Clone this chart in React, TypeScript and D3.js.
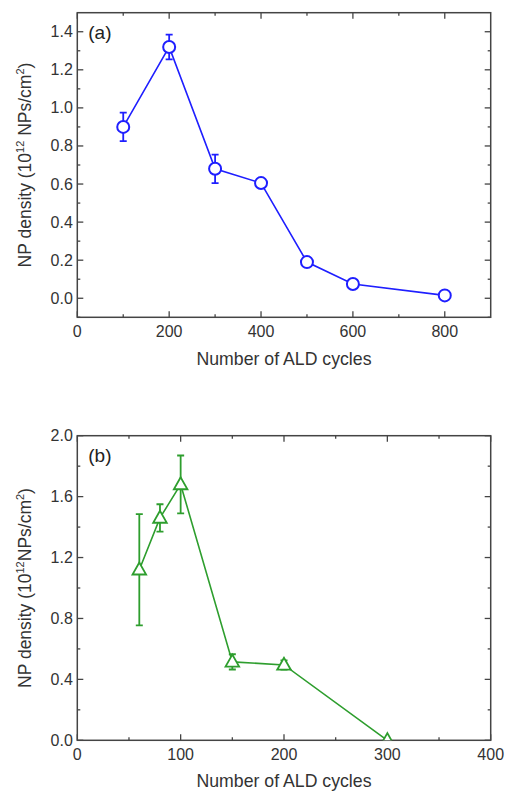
import React from "react";
import * as d3 from "d3";

// Panel (a)
const cyclesA = [100, 200, 300, 400, 500, 600, 800];
const densityA = [0.9, 1.32, 0.68, 0.605, 0.19, 0.075, 0.015];
const errA = [0.075, 0.065, 0.075, 0.0, 0.0, 0.0, 0.0];
const xTicksA = [0, 200, 400, 600, 800];
const xMinorA = [100, 300, 500, 700];
const yTicksA = [0.0, 0.2, 0.4, 0.6, 0.8, 1.0, 1.2, 1.4];
const yMinorA = [-0.1, 0.1, 0.3, 0.5, 0.7, 0.9, 1.1, 1.3];

// Panel (b)
const cyclesB = [60, 80, 100, 150, 200, 300];
const densityB = [1.12, 1.46, 1.68, 0.515, 0.495, 0.0];
const errB = [0.365, 0.09, 0.19, 0.05, 0.03, 0.0];
const xTicksB = [0, 100, 200, 300, 400];
const xMinorB = [50, 150, 250, 350];
const yTicksB = [0.0, 0.4, 0.8, 1.2, 1.6, 2.0];
const yMinorB = [0.2, 0.6, 1.0, 1.4, 1.8];

const FONT = "'Liberation Sans', Arial, sans-serif";
const AXIS = "#444";
const TXT = "#333";

type PanelProps = {
  id: string;
  left: number; right: number; top: number; bottom: number;
  xDomain: [number, number]; yDomain: [number, number];
  xs: number[]; ys: number[]; errs: number[];
  xTicks: number[]; xMinor: number[]; yTicks: number[]; yMinor: number[];
  yFmt: (v: number) => string;
  color: string; marker: "circle" | "triangle";
  tag: string; spaceBefore: boolean;
  xLabelY: number; yLabelX: number;
};

function Panel(p: PanelProps) {
  const x = d3.scaleLinear().domain(p.xDomain).range([p.left, p.right]);
  const y = d3.scaleLinear().domain(p.yDomain).range([p.bottom, p.top]);
  const line = d3.line<number>().x((_, i) => x(p.xs[i])).y((d) => y(d));
  const MAJ = 6, MIN = 3;
  const clipId = "clip-" + p.id;
  const cy = (p.top + p.bottom) / 2;
  const cx = (p.left + p.right) / 2;
  return (
    <g>
      <defs>
        <clipPath id={clipId}>
          <rect x={p.left} y={p.top} width={p.right - p.left} height={p.bottom - p.top} />
        </clipPath>
      </defs>
      {/* ticks */}
      <g stroke={AXIS} strokeWidth={1.3}>
        {p.xTicks.map((t) => (
          <g key={"xt" + t}>
            <line x1={x(t)} x2={x(t)} y1={p.bottom} y2={p.bottom - MAJ} />
            <line x1={x(t)} x2={x(t)} y1={p.top} y2={p.top + MAJ} />
          </g>
        ))}
        {p.xMinor.map((t) => (
          <g key={"xm" + t}>
            <line x1={x(t)} x2={x(t)} y1={p.bottom} y2={p.bottom - MIN} />
            <line x1={x(t)} x2={x(t)} y1={p.top} y2={p.top + MIN} />
          </g>
        ))}
        {p.yTicks.map((t) => (
          <g key={"yt" + t}>
            <line x1={p.left} x2={p.left + MAJ} y1={y(t)} y2={y(t)} />
            <line x1={p.right} x2={p.right - MAJ} y1={y(t)} y2={y(t)} />
          </g>
        ))}
        {p.yMinor.map((t) => (
          <g key={"ym" + t}>
            <line x1={p.left} x2={p.left + MIN} y1={y(t)} y2={y(t)} />
            <line x1={p.right} x2={p.right - MIN} y1={y(t)} y2={y(t)} />
          </g>
        ))}
      </g>
      <rect x={p.left} y={p.top} width={p.right - p.left} height={p.bottom - p.top}
        fill="none" stroke={AXIS} strokeWidth={1.5} />
      {/* tick labels */}
      <g fontFamily={FONT} fontSize={16} fill={TXT}>
        {p.xTicks.map((t) => (
          <text key={"xl" + t} x={x(t)} y={p.bottom + 20} textAnchor="middle">{t}</text>
        ))}
        {p.yTicks.map((t) => (
          <text key={"yl" + t} x={p.left - 4.5} y={y(t) + 5.5} textAnchor="end">{p.yFmt(t)}</text>
        ))}
      </g>
      {/* titles */}
      <text x={cx} y={p.xLabelY} textAnchor="middle" fontFamily={FONT} fontSize={17.7} fill={TXT}>
        Number of ALD cycles
      </text>
      <text transform={`translate(${p.yLabelX},${cy}) rotate(-90)`} textAnchor="middle"
        fontFamily={FONT} fontSize={17.5} fill={TXT}>
        NP density (10<tspan fontSize={11} dy={-7}>12</tspan>
        <tspan dy={7}>{p.spaceBefore ? " NPs/cm" : "NPs/cm"}</tspan>
        <tspan fontSize={11} dy={-7}>2</tspan>
        <tspan dy={7}>)</tspan>
      </text>
      <text x={p.left + 11} y={p.top + 26.5} fontFamily={FONT} fontSize={19} fill="#222">{p.tag}</text>
      {/* data */}
      <g clipPath={`url(#${clipId})`}>
        <path d={line(p.ys) || ""} fill="none" stroke={p.color} strokeWidth={1.6} />
        {p.ys.map((v, i) =>
          p.errs[i] > 0 ? (
            <g key={"e" + i} stroke={p.color} strokeWidth={1.8}>
              <line x1={x(p.xs[i])} x2={x(p.xs[i])} y1={y(v - p.errs[i])} y2={y(v + p.errs[i])} />
              <line x1={x(p.xs[i]) - 3.5} x2={x(p.xs[i]) + 3.5} y1={y(v - p.errs[i])} y2={y(v - p.errs[i])} />
              <line x1={x(p.xs[i]) - 3.5} x2={x(p.xs[i]) + 3.5} y1={y(v + p.errs[i])} y2={y(v + p.errs[i])} />
            </g>
          ) : null
        )}
        {p.ys.map((v, i) => {
          const px = x(p.xs[i]);
          const py = y(v);
          if (p.marker === "circle") {
            return <circle key={"m" + i} cx={px} cy={py} r={6} fill="#fff" stroke={p.color} strokeWidth={2} />;
          }
          const w = 6.8, h = 12;
          const pts = `${px},${py - h * 0.6} ${px - w},${py + h * 0.4} ${px + w},${py + h * 0.4}`;
          return <polygon key={"m" + i} points={pts} fill="#fff" stroke={p.color} strokeWidth={1.8} strokeLinejoin="miter" />;
        })}
      </g>
    </g>
  );
}

export default function App() {
  return (
    <svg width={505} height={792} style={{ position: "absolute", left: 0, top: 0, background: "#fff" }}>
      <rect width={505} height={792} fill="#fff" />
      <Panel id="a" left={77.3} right={490.7} top={12.7} bottom={317.3}
        xDomain={[0, 900]} yDomain={[-0.1, 1.5]}
        xs={cyclesA} ys={densityA} errs={errA}
        xTicks={xTicksA} xMinor={xMinorA} yTicks={yTicksA} yMinor={yMinorA}
        yFmt={(v) => v.toFixed(1)} color="#1f1fff" marker="circle" tag="(a)" spaceBefore={true}
        xLabelY={365} yLabelX={31} />
      <Panel id="b" left={77.3} right={490.7} top={435.7} bottom={740.3}
        xDomain={[0, 400]} yDomain={[0, 2.0]}
        xs={cyclesB} ys={densityB} errs={errB}
        xTicks={xTicksB} xMinor={xMinorB} yTicks={yTicksB} yMinor={yMinorB}
        yFmt={(v) => v.toFixed(1)} color="#2e9e2e" marker="triangle" tag="(b)" spaceBefore={false}
        xLabelY={787} yLabelX={31} />
    </svg>
  );
}
